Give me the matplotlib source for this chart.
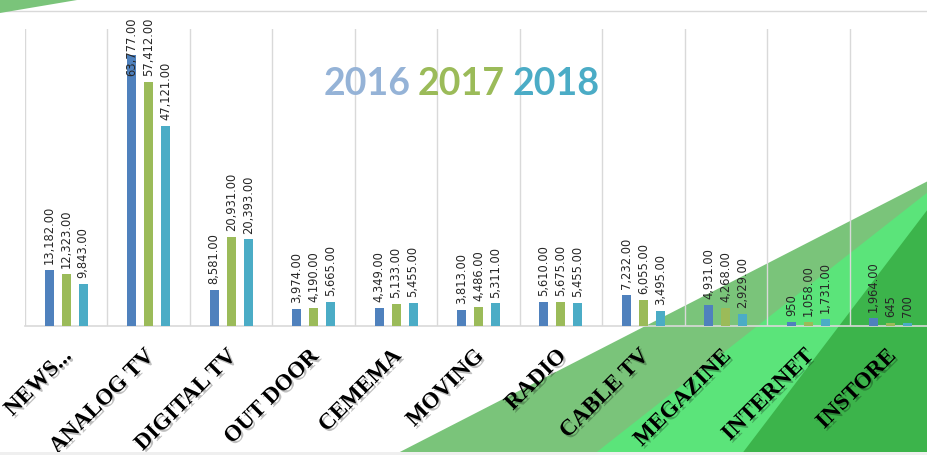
import matplotlib
matplotlib.use("Agg")
import matplotlib.pyplot as plt
import matplotlib.patheffects as pe
from matplotlib.patches import Polygon, Rectangle
import numpy as np

categories = ["NEWS...", "ANALOG TV", "DIGITAL TV", "OUT DOOR", "CEMEMA", "MOVING",
              "RADIO", "CABLE TV", "MEGAZINE", "INTERNET", "INSTORE"]
years = ["2016", "2017", "2018"]
v2016 = [13182, 63777, 8581, 3974, 4349, 3813, 5610, 7232, 4931, 950, 1964]
v2017 = [12323, 57412, 20931, 4190, 5133, 4486, 5675, 6055, 4268, 1058, 645]
v2018 = [9843, 47121, 20393, 5665, 5455, 5311, 5455, 3495, 2929, 1731, 700]
# labels shown without decimals in the original
plain = {(0, 9), (1, 10), (2, 10)}

bar_colors = ["#4F81BD", "#9BBB59", "#4BACC6"]
title_colors = ["#95B3D7", "#9BBB59", "#4BACC6"]

W, H = 928, 456
fig = plt.figure(figsize=(W / 100, H / 100), dpi=100)
fig.patch.set_facecolor("white")


def fp(x, y):
    # pixel (from top-left) -> figure fraction
    return (x / W, 1 - y / H)


# background decoration
def poly(pts, color, z=-1):
    fig.patches.append(Polygon([fp(*p) for p in pts], closed=True, transform=fig.transFigure,
                               facecolor=color, edgecolor="none", zorder=z))


poly([(394, 456), (928, 182), (928, 456)], "#7AC47A")
poly([(593, 456), (928, 193), (928, 456)], "#5BE47A")
poly([(741, 456), (928, 210), (928, 456)], "#3CB44B")
poly([(0, 0), (83, 0), (0, 14)], "#7AC47A")
fig.add_artist(plt.Line2D([0, 1], [1 - 12 / H] * 2, transform=fig.transFigure, color="#D9D9D9", lw=1, zorder=-1))

ax = fig.add_axes([25 / W, (H - 327) / H, 907 / W, 297 / H])
ax.set_zorder(1)
ax.patch.set_alpha(0)
ymax = 70000
ax.set_xlim(-0.5, 10.5)
ax.set_ylim(0, ymax)
for s in ax.spines.values():
    s.set_visible(False)
ax.set_xticks([])
ax.set_yticks([])

for k in range(12):
    ax.axvline(k - 0.5, color="#D9D9D9", lw=1, zorder=1)
ax.axhline(0, color="#D9D9D9", lw=1.2, zorder=1, clip_on=False)

x = np.arange(len(categories))
width = 9 / 82.45
step = 17 / 82.45
series = [v2016, v2017, v2018]
for j, vals in enumerate(series):
    xs = x + (j - 1) * step
    ax.bar(xs, vals, width=width, color=bar_colors[j], zorder=2)
    for i, v in enumerate(vals):
        lab = f"{v:,}" if (j, i) in plain else f"{v:,.2f}"
        if v > 0.86 * ymax:
            ax.annotate(lab, xy=(xs[i], 1 - 17 / H), xycoords=("data", "figure fraction"),
                        rotation=90, ha="center", va="top", fontsize=8.3, color="#262626",
                        annotation_clip=False, zorder=3)
        else:
            ax.annotate(lab, xy=(xs[i], v), xytext=(0, 5), textcoords="offset points",
                        rotation=90, ha="center", va="bottom", fontsize=8.3, color="#262626",
                        annotation_clip=False, zorder=3)

shadow = [pe.SimplePatchShadow(offset=(1.6, -1.6), shadow_rgbFace="black", alpha=0.25), pe.Normal()]
for i, c in enumerate(categories):
    ax.text(i + 2 / 82.45, -27 * ymax / 297, c, rotation=45, rotation_mode="anchor",
            ha="right", va="center", fontsize=16.5, fontweight="bold", family="Liberation Serif",
            color="black", clip_on=False, path_effects=shadow, zorder=4)

# title
for t, col, cx in zip(years, title_colors, [367, 461, 556]):
    fig.text(*fp(cx, 95), t, ha="center", va="baseline", fontsize=27, fontweight="bold",
             family="Lato", color=col)

fig.patches.append(Rectangle(fp(0, 456), 1, 3 / H, transform=fig.transFigure,
                             facecolor="#EFEFEF", edgecolor="none", zorder=5))

fig.savefig("out.png", dpi=100)
